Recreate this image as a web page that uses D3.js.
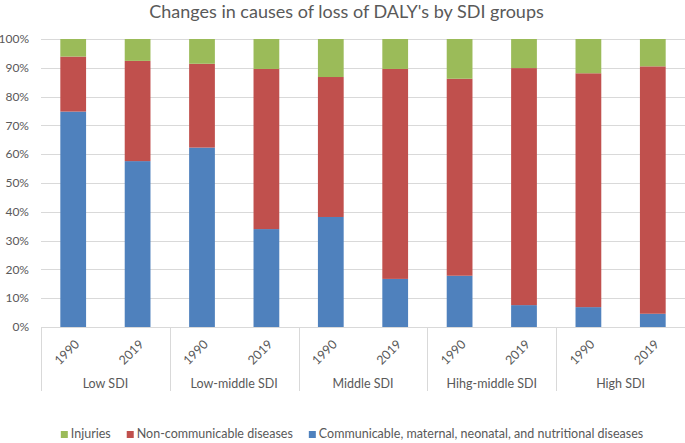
<!DOCTYPE html>
<html>
  <head>
  <title>DALY causes by SDI</title>
  <script src="https://d3js.org/d3.v7.min.js"></script>
  <style>
    body { margin: 0; background: white; }
    text { font-family: Lato, "Open Sans", sans-serif; fill: #595959; }
    .title { font-size: 18px; }
    .tick-label { font-size: 12.5px; }
    .y-label { font-size: 12px; }
    .legend-label { font-size: 12.5px; }
  </style>
  </head>
  <body>
    <script>
      let width = 685, height = 443;

      // values (percent of total DALYs)
      let groups = ['Low SDI', 'Low-middle SDI', 'Middle SDI', 'Hihg-middle SDI', 'High SDI'];
      let years = ['1990', '2019'];
      let communicable = [74.8, 57.6, 62.3, 34.0, 38.2, 16.7, 17.8, 7.6, 6.9, 4.6];
      let nonCommunicable = [19.1, 34.8, 29.1, 55.6, 48.6, 72.9, 68.4, 82.3, 81.2, 85.9];
      let injuries = [6.1, 7.6, 8.6, 10.4, 13.2, 10.4, 13.8, 10.1, 11.9, 9.5];
      let yTicks = [0, 10, 20, 30, 40, 50, 60, 70, 80, 90, 100];

      let seriesKeys = ['communicable', 'nonCommunicable', 'injuries'];
      let seriesNames = {
        injuries: 'Injuries',
        nonCommunicable: 'Non-communicable diseases',
        communicable: 'Communicable, maternal, neonatal, and nutritional diseases'
      };
      let colors = d3.scaleOrdinal().domain(seriesKeys).range(['#4f81bd', '#c0504d', '#9bbb59']);

      // one row per bar
      let rows = [];
      groups.forEach((g, gi) => years.forEach((yr, yi) => {
        let i = gi * years.length + yi;
        rows.push({key: g + '|' + yr, group: g, year: yr,
                   communicable: communicable[i], nonCommunicable: nonCommunicable[i], injuries: injuries[i]});
      }));

      let plot = {left: 41, right: 685, top: 39, bottom: 327};

      let svg = d3.select('body').append('svg').attr('width', width).attr('height', height);

      let x = d3.scaleBand().domain(rows.map(d => d.key))
                .range([plot.left, plot.right]).paddingInner(0.6).paddingOuter(0.3);
      let y = d3.scaleLinear().domain([0, 100]).range([plot.bottom, plot.top]);

      // title
      svg.append('text').classed('title', true)
         .attr('x', 346.5).attr('y', 18).attr('text-anchor', 'middle')
         .text("Changes in causes of loss of DALY's by SDI groups");

      // gridlines
      svg.append('g').selectAll('line').data(yTicks).enter().append('line')
         .attr('x1', plot.left).attr('x2', plot.right)
         .attr('y1', d => Math.round(y(d)) + 0.5).attr('y2', d => Math.round(y(d)) + 0.5)
         .attr('stroke', '#d9d9d9').attr('stroke-width', 1);

      // y axis labels
      svg.append('g').selectAll('text').data(yTicks).enter().append('text')
         .classed('y-label', true)
         .attr('x', 29).attr('y', d => y(d)).attr('dy', '0.35em')
         .attr('text-anchor', 'end')
         .text(d => d + '%');

      // stacked bars
      let stacked = d3.stack().keys(seriesKeys)(rows);
      svg.append('g').selectAll('g').data(stacked).enter().append('g')
         .attr('fill', d => colors(d.key))
         .selectAll('rect').data(d => d).enter().append('rect')
         .attr('x', d => x(d.data.key))
         .attr('width', x.bandwidth())
         .attr('y', d => y(d[1]))
         .attr('height', d => y(d[0]) - y(d[1]));

      // group dividers below the axis
      let groupWidth = (plot.right - plot.left) / groups.length;
      svg.append('g').selectAll('line').data(d3.range(groups.length + 1)).enter().append('line')
         .attr('x1', i => Math.round(plot.left + i * groupWidth) + 0.5)
         .attr('x2', i => Math.round(plot.left + i * groupWidth) + 0.5)
         .attr('y1', plot.bottom).attr('y2', 391)
         .attr('stroke', '#d9d9d9');

      // year labels, rotated
      svg.append('g').selectAll('text').data(rows).enter().append('text')
         .classed('tick-label', true)
         .attr('text-anchor', 'end')
         .attr('transform', d => 'translate(' + (x(d.key) + x.bandwidth() / 2 + 7) + ',345) rotate(-45)')
         .text(d => d.year);

      // group labels
      svg.append('g').selectAll('text').data(groups).enter().append('text')
         .classed('tick-label', true)
         .attr('x', (d, i) => plot.left + (i + 0.5) * groupWidth)
         .attr('y', 388).attr('text-anchor', 'middle')
         .text(d => d);

      // legend
      let legendOrder = ['injuries', 'nonCommunicable', 'communicable'];
      let legend = svg.append('g');
      let items = legend.selectAll('g').data(legendOrder).enter().append('g');
      items.append('rect').attr('width', 7).attr('height', 7).attr('y', -7)
           .attr('fill', d => colors(d));
      items.append('text').classed('legend-label', true)
           .attr('x', 10).attr('y', 0).text(d => seriesNames[d]);
      let offset = 0;
      items.each(function () {
        let w = d3.select(this).select('text').node().getComputedTextLength();
        d3.select(this).attr('data-x', offset);
        offset += 10 + w + 16;
      });
      let total = offset - 16;
      let start = 352 - total / 2;
      items.attr('transform', function () {
        return 'translate(' + (start + (+this.getAttribute('data-x'))) + ',438)';
      });
    </script>
  </body>
</html>
